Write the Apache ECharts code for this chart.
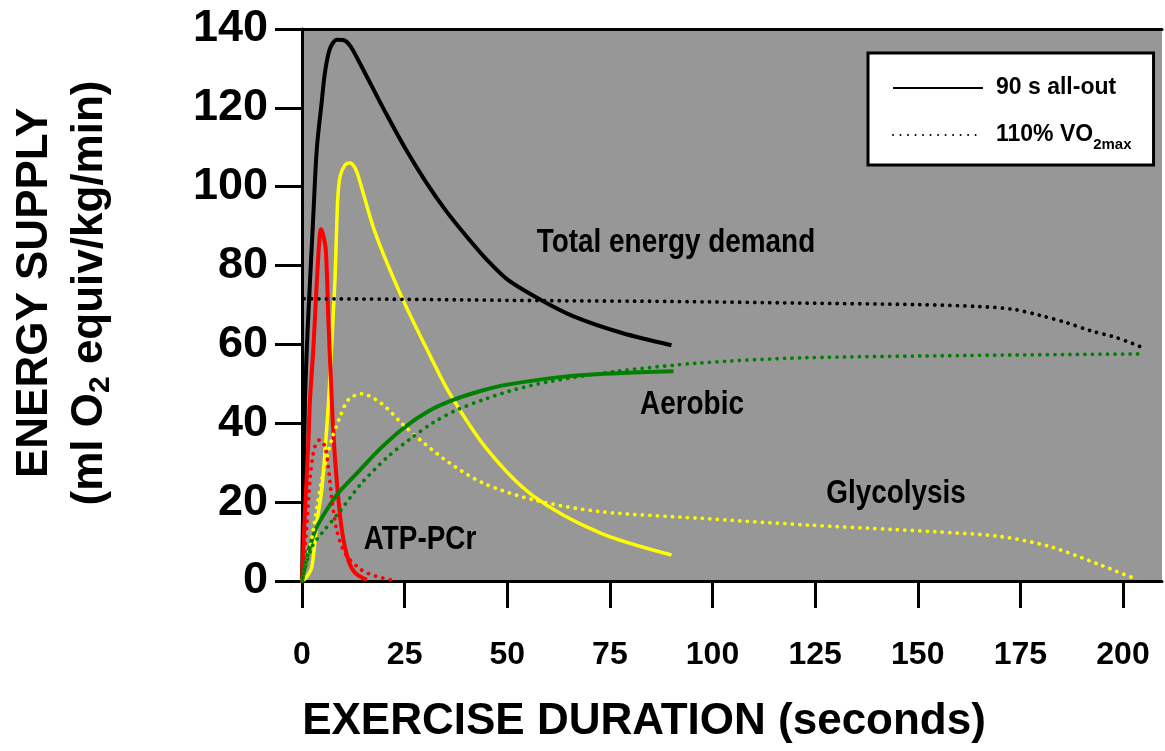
<!DOCTYPE html>
<html>
<head>
<meta charset="utf-8">
<script src="https://cdn.jsdelivr.net/npm/echarts@6/dist/echarts.min.js"></script>
<style>
  html, body { margin: 0; padding: 0; background: #fff; }
  #main { width: 1165px; height: 751px; }
</style>
</head>
<body>
<div id="main"></div>
<script>
// x = seconds, y = ml O2 equiv/kg/min
// 90 s all-out (solid lines)
var allOutTotal = [[0, 0], [0.3, 20], [0.73, 46], [1.3, 62], [1.95, 76], [2.75, 92.6], [3.6, 109.5], [4.8, 121.5], [5.6, 129], [6.8, 135], [8.5, 137.3], [10, 137.2], [11.7, 135.8], [14, 131.5], [17, 125.5], [20, 119.5], [25, 110], [30, 101.5], [35, 94], [40, 87.5], [45, 81.5], [50, 76.5], [58, 71.4], [66, 67.2], [78, 62.9], [90, 59.8]];
var allOutGlyc = [[0, 0], [1, 0.8], [2.4, 3.6], [3.6, 14.7], [4.8, 23], [6, 38.4], [6.6, 48], [8, 75.7], [8.7, 96.8], [9.3, 102.7], [10.5, 105.5], [11.7, 106], [12.8, 105], [13.7, 102.7], [17.8, 88.4], [24.3, 72], [30.8, 58], [36, 47.5], [45, 33.5], [56.3, 21.6], [72.6, 12.2], [90, 6.6]];
var allOutPCr = [[0, 0], [0.7, 17.2], [1.5, 34], [1.95, 46], [2.75, 58.7], [3.6, 75.7], [4.2, 86], [4.6, 89.2], [5.1, 88], [5.8, 84], [6.4, 67], [7.07, 50.2], [7.6, 38.4], [8.45, 25.7], [9.7, 13], [11.3, 5.3], [13, 2], [15.8, 0.3]];
var allOutAer = [[0, 0], [1, 5], [2, 9], [3.5, 13.5], [6, 18], [9, 22.5], [14, 28], [19, 33.5], [25, 39], [31, 43.2], [37, 46], [43.5, 48.2], [50, 49.8], [64.5, 51.9], [77, 52.7], [90.5, 53.2]];
// 110% VO2max (dotted lines)
var vo2Total = [[0.5, 71.6], [30, 71.4], [60, 71.1], [90, 70.9], [121, 70.5], [150, 70.1], [165, 69.6], [173.3, 68.9], [180, 67.3], [186.3, 65.5], [192, 63.5], [198.5, 61.7], [205, 59.1]];
var vo2Glyc = [[0, 0], [1.1, 4.5], [2.75, 13], [4.8, 25.7], [7.2, 35.8], [9.3, 41.7], [11.3, 46], [14.5, 47.5], [19.4, 45], [24.3, 40], [28.75, 35.8], [36, 29.9], [44.2, 24.8], [56.3, 20.6], [72.6, 17.6], [97, 15.9], [123, 14.2], [145, 13], [154, 12.5], [170, 11.3], [182.3, 8.7], [194.4, 4.1], [203.4, 0.4]];
var vo2PCr = [[0, 0], [1.1, 13], [1.95, 25.7], [2.75, 32.4], [3.5, 35], [4.4, 35.8], [5.6, 34], [6.4, 29], [7.2, 21.4], [8.45, 13], [10.5, 7], [14.5, 2.8], [18, 1.2], [21.8, 0.3]];
var vo2Aer = [[0, 0], [1, 4], [2.4, 8.7], [4.8, 12.1], [8.85, 17.2], [14.5, 24.8], [21, 31.6], [26.7, 36.3], [32, 40.2], [38, 43.5], [44.2, 46], [52, 48.6], [60.4, 50.6], [76.7, 53.2], [97, 55.3], [122, 56.6], [162, 57.2], [204, 57.6]];

var xTicks = [0, 25, 50, 75, 100, 125, 150, 175, 200];
var legendNames = ['90 s all-out', '110% VO2max'];

var ARIAL = '"Liberation Sans", Arial, sans-serif';

function solid(name, data, color, width) {
    return {
        name: name, type: 'line', data: data,
        smooth: 0.3,
        symbol: 'none', silent: true,
        itemStyle: {color: color},
        lineStyle: {color: color, width: width}
    };
}
function dotted(name, data, color) {
    return {
        name: name, type: 'line', data: data,
        smooth: 0.3,
        symbol: 'none', silent: true,
        itemStyle: {color: color},
        lineStyle: {color: color, width: 3.8, type: [0.01, 7.5], cap: 'round'}
    };
}
// 窄体文字：横向压缩
function label(text, x, y, size) {
    return {
        type: 'text', x: x, y: y, scaleX: 0.82,
        style: {text: text, fill: '#000', font: 'bold ' + size + 'px ' + ARIAL, align: 'center', verticalAlign: 'middle'}
    };
}

var chart = echarts.init(document.getElementById('main'));
var option = {
    animation: false,
    grid: {
        left: 302, right: 3, top: 29, bottom: 170,
        show: true, backgroundColor: '#979797', borderWidth: 0
    },
    xAxis: [{
        type: 'value', min: 0, max: 209.5, interval: 25,
        axisLine: {lineStyle: {color: '#000', width: 3}},
        axisTick: {show: true, length: 27, lineStyle: {color: '#000', width: 3}, customValues: xTicks},
        axisLabel: {
            margin: 58, color: '#000', fontFamily: ARIAL, fontWeight: 'bold', fontSize: 32,
            customValues: xTicks
        },
        splitLine: {show: false}
    }, {
        type: 'value', position: 'top', min: 0, max: 209.5,
        axisLine: {show: true, lineStyle: {color: '#000', width: 3}},
        axisTick: {show: false}, axisLabel: {show: false}, splitLine: {show: false}
    }],
    yAxis: {
        type: 'value', min: 0, max: 140, interval: 20,
        axisLine: {show: true, lineStyle: {color: '#000', width: 3}},
        axisTick: {show: true, length: 27, lineStyle: {color: '#000', width: 3}},
        axisLabel: {margin: 34, color: '#000', fontFamily: ARIAL, fontWeight: 'bold', fontSize: 45},
        splitLine: {show: false}
    },
    legend: {
        data: legendNames,
        orient: 'vertical',
        left: 868, top: 53,
        itemWidth: 90, itemHeight: 14, itemGap: 13,
        padding: [18, 22, 13, 24],
        backgroundColor: '#fff', borderColor: '#000', borderWidth: 3, borderRadius: 0,
        selectedMode: false,
        itemStyle: {opacity: 0},
        formatter: function (name) {
            return name === '110% VO2max' ? '110% VO{sub|2max}' : name;
        },
        textStyle: {
            color: '#000', fontFamily: ARIAL, fontWeight: 'bold', fontSize: 23, lineHeight: 34,
            padding: [0, 0, 0, 8],
            rich: {
                sub: {fontFamily: ARIAL, fontWeight: 'bold', fontSize: 15, color: '#000', lineHeight: 12, verticalAlign: 'bottom'}
            }
        }
    },
    series: [
        solid('90 s all-out', allOutTotal, '#000000', 4),
        solid('Glycolysis 90 s', allOutGlyc, '#ffff00', 3.5),
        solid('ATP-PCr 90 s', allOutPCr, '#ff0000', 4),
        solid('Aerobic 90 s', allOutAer, '#008000', 4),
        dotted('110% VO2max', vo2Total, '#000000'),
        dotted('Glycolysis 110%', vo2Glyc, '#ffff00'),
        dotted('ATP-PCr 110%', vo2PCr, '#ff0000'),
        dotted('Aerobic 110%', vo2Aer, '#008000')
    ],
    graphic: [
        label('Total energy demand', 676, 243, 34),
        label('Aerobic', 692, 405, 34),
        label('Glycolysis', 896, 494, 34),
        label('ATP-PCr', 420, 540, 34),
        {type: 'text', x: 644, y: 722, style: {text: 'EXERCISE DURATION (seconds)', fill: '#000', font: 'bold 44px ' + ARIAL, align: 'center', verticalAlign: 'middle'}},
        {
            type: 'text', x: 62, y: 293, rotation: Math.PI / 2,
            style: {
                text: 'ENERGY SUPPLY\n(ml O{sub|2} equiv/kg/min)',
                fill: '#000', font: 'bold 44px ' + ARIAL, lineHeight: 55,
                align: 'center', verticalAlign: 'middle',
                rich: {sub: {fontSize: 30, fontWeight: 'bold', fontFamily: ARIAL, fill: '#000', lineHeight: 55, padding: [22, 0, 0, 0]}}
            }
        }
    ]
};
chart.setOption(option);
</script>
</body>
</html>
